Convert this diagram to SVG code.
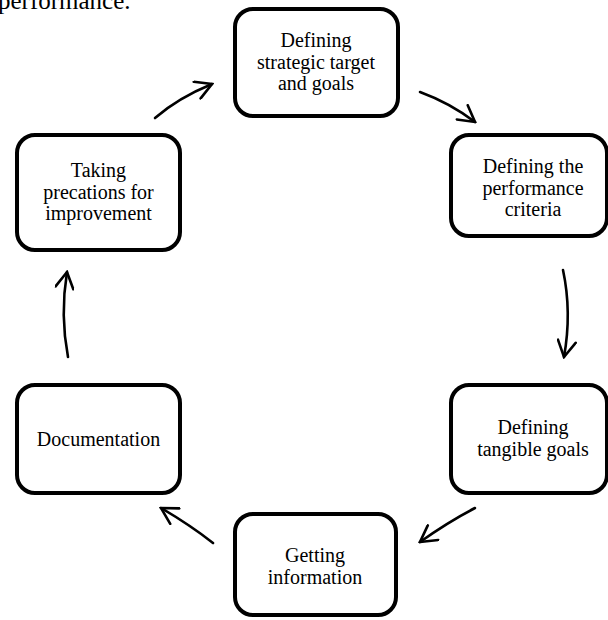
<svg xmlns="http://www.w3.org/2000/svg" width="608" height="620" viewBox="0 0 608 620">
<defs>
<style>
.box{fill:#fff;stroke:#000;stroke-width:4}
.lbl{font-family:"Liberation Serif","Times New Roman",serif;font-size:20px;fill:#000;text-anchor:middle}
.arr{fill:none;stroke:#000;stroke-width:2.6;stroke-linecap:round;marker-end:url(#head)}
</style>
<marker id="head" viewBox="0 0 20 20" refX="18" refY="10" markerWidth="20" markerHeight="20" markerUnits="userSpaceOnUse" orient="auto">
<path d="M2,1 L18,10 L2,19" fill="none" stroke="#000" stroke-width="2.6" stroke-linecap="round"/>
</marker>
</defs>
<rect width="608" height="620" fill="#fff"/>
<text x="-2" y="9" font-family="Liberation Serif, serif" font-size="25" fill="#000">performance.</text>
<g id="connectors">
<path class="arr" d="M155,118 Q178,98 212,84"/>
<path class="arr" d="M420,92 Q450,103 475,122"/>
<path class="arr" d="M563,270 Q572,312 564,357"/>
<path class="arr" d="M475,508 Q448,522 420,542"/>
<path class="arr" d="M213,543 Q190,525 161,508"/>
<path class="arr" d="M68,357 Q60,315 67,272"/>
</g>
<g id="n1"><rect class="box" x="235" y="9" width="163" height="107" rx="18"/>
<text class="lbl" x="316" y="47">Defining</text><text class="lbl" x="316" y="68.5">strategic target</text><text class="lbl" x="316" y="90">and goals</text></g>
<g id="n2"><rect class="box" x="451" y="135" width="156" height="101" rx="18"/>
<text class="lbl" x="533" y="173">Defining the</text><text class="lbl" x="533" y="194.5">performance</text><text class="lbl" x="533" y="216">criteria</text></g>
<g id="n3"><rect class="box" x="451" y="385" width="156" height="108" rx="18"/>
<text class="lbl" x="533" y="434">Defining</text><text class="lbl" x="533" y="455.5">tangible goals</text></g>
<g id="n4"><rect class="box" x="235" y="514" width="161" height="101" rx="18"/>
<text class="lbl" x="315" y="562">Getting</text><text class="lbl" x="315" y="583.5">information</text></g>
<g id="n5"><rect class="box" x="17" y="385" width="163" height="108" rx="18"/>
<text class="lbl" x="98.5" y="446">Documentation</text></g>
<g id="n6"><rect class="box" x="17" y="135" width="163" height="115" rx="18"/>
<text class="lbl" x="98.5" y="177">Taking</text><text class="lbl" x="98.5" y="198.5">precations for</text><text class="lbl" x="98.5" y="220">improvement</text></g>
</svg>
